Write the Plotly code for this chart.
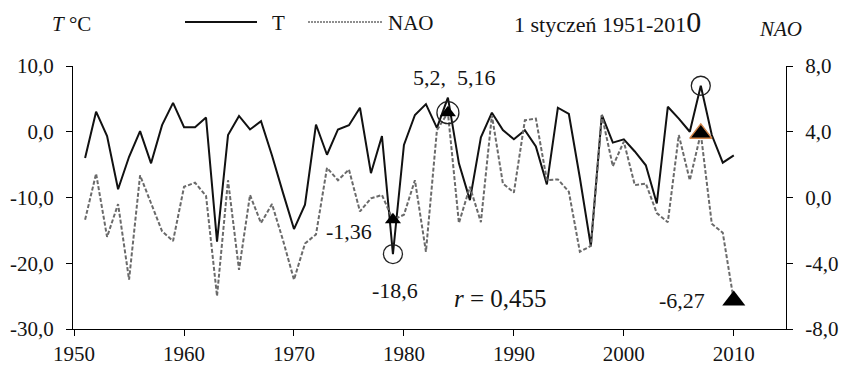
import plotly.graph_objects as go

# January temperature (T, °C) and NAO index, 1951-2010
years = list(range(1951, 2011))
temp = [-4.0, 3.05, -0.65, -8.75, -3.8, 0.1, -4.8, 1.0, 4.4, 0.7,
        0.7, 2.15, -16.7, -0.5, 2.4, 0.35, 1.6, -3.6, -9.3, -14.8,
        -11.1, 1.1, -3.5, 0.35, 1.0, 3.65, -6.3, -0.65, -18.6, -2.0,
        2.55, 4.2, 0.6, 5.2, -4.8, -10.4, -0.85, 2.9, 0.25, -1.15,
        0.25, -2.25, -8.0, 3.65, 2.7, -7.0, -17.4, 2.55, -1.65, -1.15,
        -3.0, -5.1, -10.9, 3.8, 2.0, 0.0, 7.0, -0.5, -4.7, -3.6]
nao = [-1.35, 1.45, -2.4, -0.4, -5.0, 1.35, -0.35, -2.05, -2.65, 0.65,
       0.9, 0.1, -6.0, 1.05, -4.4, 0.15, -1.55, -0.4, -2.6, -5.0,
       -2.8, -2.25, 1.8, 1.05, 1.7, -0.85, -0.05, 0.15, -1.36, -1.05,
       1.05, -3.3, 4.1, 5.16, -1.55, 0.65, -1.5, 5.0, 0.85, 0.3,
       4.7, 4.8, 1.05, 1.1, 0.35, -3.3, -2.95, 5.0, 1.9, 3.4,
       0.75, 0.85, -0.95, -1.5, 3.8, 1.05, 3.9, -1.6, -2.15, -6.27]

# highlighted extremes
circ_t_years = [1979, 2007]
circ_t_vals = [-18.6, 7.0]
circ_n_years = [1984]
circ_n_vals = [5.16]
tri_years = [1979, 1984]
tri_vals = [-1.36, 5.16]
tri_big_years = [2010]
tri_big_vals = [-6.27]
tri_orange_years = [2007]
tri_orange_vals = [3.9]

x_ticks = [1950, 1960, 1970, 1980, 1990, 2000, 2010]
t_ticks = [-30, -20, -10, 0, 10]
t_ticktext = ["-30,0", "-20,0", "-10,0", "0,0", "10,0"]
n_ticks = [-8, -4, 0, 4, 8]
n_ticktext = ["-8,0", "-4,0", "0,0", "4,0", "8,0"]

FONT = "Liberation Serif"
INK = "#141414"

fig = go.Figure()

fig.add_trace(go.Scatter(x=years, y=nao, yaxis="y2", mode="lines",
                         line=dict(color="#6a6a6a", width=2, dash="4px,2px"),
                         showlegend=False, hoverinfo="skip"))
fig.add_trace(go.Scatter(x=years, y=temp, mode="lines",
                         line=dict(color="#111111", width=2),
                         showlegend=False, hoverinfo="skip"))

fig.add_trace(go.Scatter(x=circ_t_years, y=circ_t_vals, mode="markers",
                         marker=dict(symbol="circle-open", size=19,
                                     color="#222", line=dict(width=1.3)),
                         showlegend=False))
fig.add_trace(go.Scatter(x=circ_n_years, y=circ_n_vals, yaxis="y2", mode="markers",
                         marker=dict(symbol="circle-open", size=22,
                                     color="#222", line=dict(width=1.3)),
                         showlegend=False))
fig.add_trace(go.Scatter(x=tri_years, y=tri_vals, yaxis="y2", mode="markers",
                         marker=dict(symbol="triangle-up", size=14, color="#000"),
                         showlegend=False))
fig.add_trace(go.Scatter(x=tri_big_years, y=tri_big_vals, yaxis="y2", mode="markers",
                         marker=dict(symbol="triangle-up", size=20, color="#000"),
                         showlegend=False))
fig.add_trace(go.Scatter(x=tri_orange_years, y=tri_orange_vals, yaxis="y2", mode="markers",
                         marker=dict(symbol="triangle-up", size=19, color="#000",
                                     line=dict(color="#d0844a", width=1.5)),
                         showlegend=False))

def note(text, x, y, size=22, xref="x", yref="y", xanchor="center"):
    fig.add_annotation(text=text, x=x, y=y, xref=xref, yref=yref,
                       showarrow=False, xanchor=xanchor, yanchor="middle",
                       font=dict(family=FONT, size=size, color=INK))

# value labels
note("5,2,&nbsp;&nbsp;5,16", 1984.6, 8.2)
note("-1,36", 1975.0, -15.2)
note("-18,6", 1979.2, -24.2)
note("7,0", 2006.9, 11.7)
note("-6,27", 2005.3, -25.6)
note("<i>r</i> = 0,455", 1988.8, -25.3, size=25)

# axis titles and legend
note("<i>T</i> °C", (71 - 73) / 713, 1.16, size=21, xref="paper", yref="paper")
note("<i>NAO</i>", (780 - 73) / 713, 1.14, size=21, xref="paper", yref="paper")
note("T", (270 - 73) / 713, 1.164, size=21, xref="paper", yref="paper", xanchor="left")
note("NAO", (386 - 73) / 713, 1.164, size=21, xref="paper", yref="paper", xanchor="left")
note("1 styczeń 1951-201<span style='font-size:30px'>0</span>", (512 - 73) / 713, 1.17,
     size=22, xref="paper", yref="paper", xanchor="left")

fig.add_shape(type="line", xref="paper", yref="paper",
              x0=(185 - 73) / 713, x1=(257 - 73) / 713, y0=1.167, y1=1.167,
              line=dict(color="#111111", width=2))
fig.add_shape(type="line", xref="paper", yref="paper",
              x0=(308 - 73) / 713, x1=(382 - 73) / 713, y0=1.167, y1=1.167,
              line=dict(color="#6a6a6a", width=1.5, dash="2px,1px"))

axis_common = dict(showline=True, linecolor="#000", linewidth=1.3,
                   ticks="outside", ticklen=6, tickcolor="#000", tickwidth=1.3,
                   showgrid=False, zeroline=False, automargin=False,
                   tickfont=dict(family=FONT, size=21, color=INK))

fig.update_layout(
    width=843, height=368,
    margin=dict(l=73, r=57, t=66, b=39, autoexpand=False),
    paper_bgcolor="white", plot_bgcolor="white",
    showlegend=False,
    xaxis=dict(range=[1949.9, 2014.75], tickvals=x_ticks, **axis_common),
    yaxis=dict(range=[-30, 10], tickvals=t_ticks, ticktext=t_ticktext,
               ticklabelstandoff=8, **axis_common),
    yaxis2=dict(range=[-8, 8], tickvals=n_ticks, ticktext=n_ticktext,
                overlaying="y", side="right", ticklabelstandoff=8, **axis_common),
)

fig.write_html("out.html")
